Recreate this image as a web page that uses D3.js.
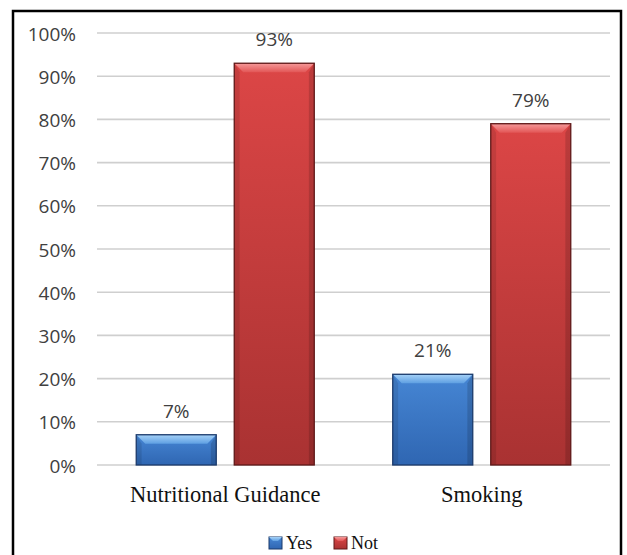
<!DOCTYPE html>
<html>
<head>
<meta charset="utf-8">
<script src="https://cdn.jsdelivr.net/npm/d3@7"></script>
<style>
  html, body { margin: 0; padding: 0; background: #fff; }
  svg { display: block; }
</style>
</head>
<body>
<svg id="chart" width="627" height="555"></svg>
<script>
// Survey answers per topic, in percent
const categories = ["Nutritional Guidance", "Smoking"];
const seriesNames = ["Yes", "Not"];
const yesValues = [7, 21];
const notValues = [93, 79];
const yTicks = [0, 10, 20, 30, 40, 50, 60, 70, 80, 90, 100];

const palette = {
  Yes: { top: "#4686d4", bottom: "#2f66b2", bevelTop: "#a6d2f8", bevelBottom: "#5e9fe2", edge: "#1b3a6b" },
  Not: { top: "#dc4646", bottom: "#a93232", bevelTop: "#f69a9a", bevelBottom: "#e25656", edge: "#5e1818" }
};

const rows = categories.map((c, i) => ({
  category: c,
  values: [
    { series: "Yes", value: yesValues[i] },
    { series: "Not", value: notValues[i] }
  ]
}));

const svg = d3.select("#chart");
const defs = svg.append("defs");

seriesNames.forEach(s => {
  const g = defs.append("linearGradient")
    .attr("id", "grad-" + s)
    .attr("x1", 0).attr("y1", 0).attr("x2", 0).attr("y2", 1);
  g.append("stop").attr("offset", "0%").attr("stop-color", palette[s].top);
  g.append("stop").attr("offset", "100%").attr("stop-color", palette[s].bottom);

  const b = defs.append("linearGradient")
    .attr("id", "bevel-" + s)
    .attr("x1", 0).attr("y1", 0).attr("x2", 0).attr("y2", 1);
  b.append("stop").attr("offset", "0%").attr("stop-color", palette[s].bevelTop);
  b.append("stop").attr("offset", "100%").attr("stop-color", palette[s].bevelBottom);
});

// Frame
svg.append("rect")
  .attr("x", 13).attr("y", 11)
  .attr("width", 608).attr("height", 570)
  .attr("fill", "none")
  .attr("stroke", "#000")
  .attr("stroke-width", 2.5);

const plot = { left: 97, right: 610, top: 33, bottom: 465 };

const y = d3.scaleLinear().domain([0, 100]).range([plot.bottom, plot.top]);

const x0 = d3.scaleBand()
  .domain(categories)
  .range([plot.left, plot.right])
  .paddingInner(0.306)
  .paddingOuter(0.153);

const x1 = d3.scaleBand()
  .domain(seriesNames)
  .range([0, x0.bandwidth()])
  .paddingInner(0.1837);

// Gridlines
svg.append("g")
  .selectAll("line")
  .data(yTicks)
  .join("line")
  .attr("x1", plot.left).attr("x2", plot.right)
  .attr("y1", d => y(d)).attr("y2", d => y(d))
  .attr("stroke", "#cfcfcf")
  .attr("stroke-width", 1.6);

// Y axis labels
const yAxis = d3.axisLeft(y)
  .tickValues(yTicks)
  .tickFormat(d => d + "%")
  .tickSize(0)
  .tickPadding(0);

const yAxisG = svg.append("g")
  .attr("transform", `translate(76,1)`)
  .call(yAxis);
yAxisG.select(".domain").remove();
yAxisG.selectAll("text")
  .attr("font-family", "'Open Sans', sans-serif")
  .attr("font-size", 19)
  .attr("fill", "#404040");

// Bars with a bevelled look
const bevel = 9;
const groups = svg.append("g")
  .selectAll("g")
  .data(rows)
  .join("g")
  .attr("transform", d => `translate(${x0(d.category)},0)`);

const bars = groups.selectAll("g.bar")
  .data(d => d.values)
  .join("g")
  .attr("class", "bar");

const pts = arr => arr.map(p => p.join(",")).join(" ");

bars.each(function(d) {
  const g = d3.select(this);
  const bx = x1(d.series);
  const bw = x1.bandwidth();
  const by = y(d.value);
  const bh = y(0) - y(d.value);
  const c = palette[d.series];
  const b = Math.min(bevel, bh / 3);

  g.append("rect")
    .attr("x", bx).attr("y", by)
    .attr("width", bw).attr("height", bh)
    .attr("fill", `url(#grad-${d.series})`);

  // side facets
  g.append("polygon")
    .attr("points", pts([[bx, by], [bx + b * 0.6, by + b], [bx + b * 0.6, by + bh], [bx, by + bh]]))
    .attr("fill", "#000").attr("opacity", 0.1);
  g.append("polygon")
    .attr("points", pts([[bx + bw, by], [bx + bw - b * 0.6, by + b], [bx + bw - b * 0.6, by + bh], [bx + bw, by + bh]]))
    .attr("fill", "#000").attr("opacity", 0.14);

  // top facet
  g.append("polygon")
    .attr("points", pts([[bx, by], [bx + bw, by], [bx + bw - b, by + b], [bx + b, by + b]]))
    .attr("fill", `url(#bevel-${d.series})`);

  g.append("rect")
    .attr("x", bx).attr("y", by)
    .attr("width", bw).attr("height", bh)
    .attr("fill", "none")
    .attr("stroke", c.edge)
    .attr("stroke-width", 1.3);

  // value label
  g.append("text")
    .attr("x", bx + bw / 2)
    .attr("y", by - 17)
    .attr("text-anchor", "middle")
    .attr("font-family", "'Open Sans', sans-serif")
    .attr("font-size", 19)
    .attr("fill", "#404040")
    .text(d.value + "%");
});

// Category labels
const xAxis = d3.axisBottom(x0).tickSize(0).tickPadding(0);
const xAxisG = svg.append("g")
  .attr("transform", `translate(0,${plot.bottom})`)
  .call(xAxis);
xAxisG.select(".domain").remove();
xAxisG.selectAll("text")
  .attr("dy", 0)
  .attr("y", 37)
  .attr("font-family", "'Liberation Serif', 'Times New Roman', serif")
  .attr("font-size", 22.5)
  .attr("fill", "#111");

// Legend
const legendItems = [
  { series: "Yes", x: 269 },
  { series: "Not", x: 334 }
];
const legend = svg.append("g");
legendItems.forEach(item => {
  const c = palette[item.series];
  legend.append("rect")
    .attr("x", item.x).attr("y", 537)
    .attr("width", 13).attr("height", 12)
    .attr("fill", `url(#grad-${item.series})`)
    .attr("stroke", c.edge).attr("stroke-width", 1);
  legend.append("polygon")
    .attr("points", pts([[item.x, 537], [item.x + 13, 537], [item.x + 9, 541], [item.x + 4, 541]]))
    .attr("fill", `url(#bevel-${item.series})`);
  legend.append("text")
    .attr("x", item.x + 17)
    .attr("y", 549)
    .attr("font-family", "'Liberation Serif', 'Times New Roman', serif")
    .attr("font-size", 18)
    .attr("fill", "#111")
    .text(item.series);
});
</script>
</body>
</html>
